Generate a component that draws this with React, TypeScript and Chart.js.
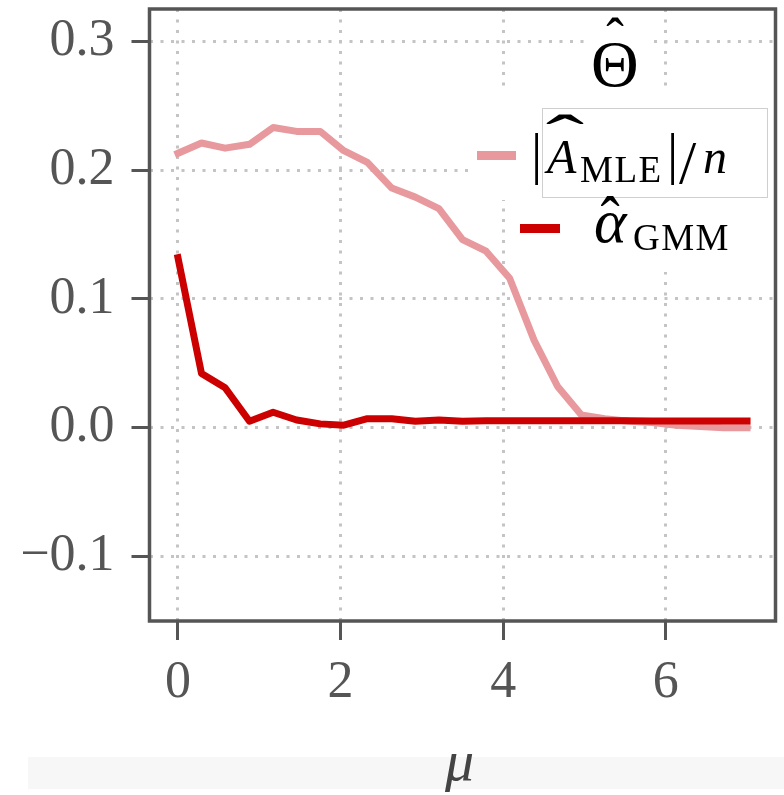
import React, { useEffect, useRef } from "react";
import { Chart, registerables } from "chart.js";

Chart.register(...registerables);

// ---- data ----
const muValues = [0, 0.29, 0.58, 0.88, 1.17, 1.46, 1.75, 2.04, 2.33, 2.63, 2.92, 3.21, 3.5, 3.79, 4.08, 4.38, 4.67, 4.96, 5.25, 5.54, 5.83, 6.13, 6.42, 6.71, 7.0];
const mleValues = [0.213, 0.221, 0.217, 0.220, 0.233, 0.230, 0.230, 0.215, 0.206, 0.186, 0.179, 0.170, 0.146, 0.137, 0.116, 0.068, 0.032, 0.010, 0.007, 0.005, 0.004, 0.002, 0.001, 0.000, 0.000];
const gmmValues = [0.132, 0.042, 0.031, 0.005, 0.012, 0.006, 0.003, 0.002, 0.007, 0.007, 0.005, 0.006, 0.005, 0.0055, 0.0055, 0.0055, 0.0055, 0.0055, 0.0055, 0.0055, 0.0053, 0.0053, 0.0053, 0.0053, 0.0053];
const xTickValues = [0, 2, 4, 6];
const xTickLabels = ["0", "2", "4", "6"];
const yTickValues = [-0.1, 0, 0.1, 0.2, 0.3];
const yTickLabels = ["\u22120.1", "0.0", "0.1", "0.2", "0.3"];

const PALE = "#e8999d";
const RED = "#cc0000";
const AXIS = "#555555";
const GRID = "#c4c4c4";
const SERIF = "'Liberation Serif', 'DejaVu Serif', serif";

const framePlugin = {
  id: "frameAndMasks",
  beforeDatasetsDraw(chart: any) {
    const ctx = chart.ctx;
    ctx.save();
    ctx.fillStyle = "#ffffff";
    ctx.fillRect(584, 11, 64, 79);
    ctx.fillRect(470, 90, 303, 110);
    ctx.fillRect(515, 200, 258, 72);
    ctx.restore();
  },
  afterDraw(chart: any) {
    const { ctx, chartArea } = chart;
    ctx.save();
    ctx.strokeStyle = AXIS;
    ctx.lineWidth = 3.5;
    ctx.setLineDash([]);
    ctx.strokeRect(chartArea.left, chartArea.top, chartArea.right - chartArea.left, chartArea.bottom - chartArea.top);
    ctx.restore();
  },
};

const T = ({ x, base, size, text, italic, color, ls }: any) => (
  <span
    style={{
      position: "absolute",
      left: x,
      top: base - 0.8375 * size,
      fontSize: size,
      lineHeight: `${size}px`,
      fontFamily: SERIF,
      fontStyle: italic ? "italic" : "normal",
      whiteSpace: "pre",
      color: color || "#000",
      letterSpacing: ls || 0,
    }}
  >
    {text}
  </span>
);

const Hat = ({ cx, cy, size, sx, sy }: any) => (
  <span
    style={{
      position: "absolute",
      left: cx,
      top: cy + 0.2525 * sy * size - 0.5 * size,
      fontSize: size,
      lineHeight: `${size}px`,
      fontFamily: SERIF,
      whiteSpace: "pre",
      color: "#000",
      transform: `translateX(-50%) scale(${sx}, ${sy})`,
      transformOrigin: "center center",
    }}
  >
    {"\u02C6"}
  </span>
);

export default function App() {
  const ref = useRef<HTMLCanvasElement | null>(null);

  useEffect(() => {
    if (!ref.current) return;
    const chart = new Chart(ref.current, {
      type: "line",
      data: {
        datasets: [
          {
            label: "GMM",
            data: muValues.map((m, i) => ({ x: m, y: gmmValues[i] })),
            borderColor: RED,
            borderWidth: 7,
            pointRadius: 0,
            borderCapStyle: "square",
            borderJoinStyle: "round",
            tension: 0,
            order: 0,
          },
          {
            label: "MLE",
            data: muValues.map((m, i) => ({ x: m, y: mleValues[i] })),
            borderColor: PALE,
            borderWidth: 7,
            pointRadius: 0,
            borderCapStyle: "square",
            borderJoinStyle: "round",
            tension: 0,
            order: 1,
          },
        ],
      },
      options: {
        animation: false,
        responsive: false,
        maintainAspectRatio: false,
        devicePixelRatio: 1,
        layout: { padding: { left: 0, right: 8.5, top: 9, bottom: 0 } },
        plugins: { legend: { display: false }, tooltip: { enabled: false } },
        scales: {
          x: {
            type: "linear",
            min: -0.35,
            max: 7.35,
            afterBuildTicks: (s: any) => {
              s.ticks = xTickValues.map((v) => ({ value: v }));
            },
            afterFit: (s: any) => {
              s.height = 174;
              s.paddingLeft = 0;
              s.paddingRight = 0;
              s.paddingTop = 0;
              s.paddingBottom = 0;
            },
            ticks: {
              callback: (_v: any, i: number) => xTickLabels[i],
              font: { family: SERIF, size: 52 },
              color: AXIS,
              padding: 12,
              maxRotation: 0,
            },
            grid: {
              color: GRID,
              lineWidth: 3,
              drawTicks: true,
              tickLength: 19,
              tickColor: AXIS,
              tickWidth: 3,
              tickBorderDash: [],
            },
            border: { display: false, dash: [3, 7.5] },
          },
          y: {
            type: "linear",
            min: -0.15,
            max: 0.325,
            afterBuildTicks: (s: any) => {
              s.ticks = yTickValues.map((v) => ({ value: v }));
            },
            afterFit: (s: any) => {
              s.width = 149.5;
              s.paddingLeft = 0;
              s.paddingRight = 0;
              s.paddingTop = 0;
              s.paddingBottom = 0;
            },
            ticks: {
              callback: (_v: any, i: number) => yTickLabels[i],
              font: { family: SERIF, size: 52 },
              color: AXIS,
              padding: 17,
            },
            grid: {
              color: GRID,
              lineWidth: 3,
              drawTicks: true,
              tickLength: 18,
              tickColor: AXIS,
              tickWidth: 3,
              tickBorderDash: [],
            },
            border: { display: false, dash: [3, 7.5] },
          },
        },
      },
      plugins: [framePlugin],
    } as any);
    return () => chart.destroy();
  }, []);

  return (
    <div style={{ position: "absolute", left: 0, top: 0, width: 784, height: 795, background: "#fff", overflow: "hidden" }}>
      <div style={{ position: "absolute", left: 28, top: 757, width: 756, height: 32, background: "#f7f7f7" }} />
      <canvas ref={ref} width={784} height={795} style={{ position: "absolute", left: 0, top: 0, width: 784, height: 795 }} />

      {/* legend title */}
      <T x={591} base={86} size={66} text={"\u0398"} />
      <Hat cx={615} cy={23} size={48} sx={1.1} sy={1.2} />

      {/* legend frame */}
      <div style={{ position: "absolute", left: 542, top: 108, width: 224, height: 88, border: "1px solid #cfcfcf" }} />

      {/* entry 1 */}
      <div style={{ position: "absolute", left: 477, top: 151, width: 39, height: 9, background: PALE }} />
      <T x={531} base={173} size={56} text="|" />
      <T x={547} base={173} size={48} text="A" italic />
      <Hat cx={565} cy={122} size={48} sx={2.4} sy={1.3} />
      <T x={580} base={182} size={37} text="MLE" ls={1.5} />
      <T x={667} base={173} size={56} text="|" />
      <T x={679} base={183} size={62} text="/" />
      <T x={703} base={173} size={48} text="n" italic />

      {/* entry 2 */}
      <div style={{ position: "absolute", left: 520, top: 224, width: 40, height: 9, background: RED }} />
      <T x={594} base={242} size={62} text={"\u03B1"} italic />
      <Hat cx={610} cy={204} size={48} sx={1.2} sy={1.4} />
      <T x={633} base={250} size={37} text="GMM" ls={1.5} />

      {/* x axis title */}
      <T x={445} base={781} size={58} text={"\u03BC"} italic color="#444" />
    </div>
  );
}
